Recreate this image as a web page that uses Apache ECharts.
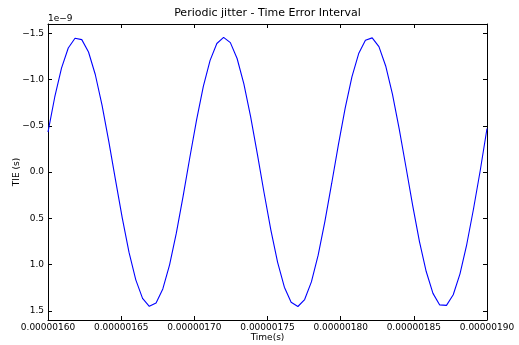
<!DOCTYPE html>
<html>
<head>
<meta charset="utf-8">
<script src="https://cdn.jsdelivr.net/npm/echarts@6/dist/echarts.min.js"></script>
<style>
  html, body { margin: 0; padding: 0; background: #fff; }
  #chart { width: 519px; height: 345px; }
</style>
</head>
<body>
<div id="chart"></div>
<script>
// Edge times in ns (axis labels are shown in seconds)
const timeNs = [
  1600.00, 1604.62, 1609.23, 1613.85, 1618.46, 1623.08, 1627.69, 1632.31, 1636.92, 1641.54, 1646.15, 1650.77, 1655.38,
  1660.00, 1664.62, 1669.23, 1673.85, 1678.46, 1683.08, 1687.69, 1692.31, 1696.92, 1701.54, 1706.15, 1710.77, 1715.38,
  1720.00, 1724.62, 1729.23, 1733.85, 1738.46, 1743.08, 1747.69, 1752.31, 1756.92, 1761.54, 1766.15, 1770.77, 1775.38,
  1780.00, 1784.62, 1789.23, 1793.85, 1798.46, 1803.08, 1807.69, 1812.31, 1816.92, 1821.54, 1826.15, 1830.77, 1835.38,
  1840.00, 1844.62, 1849.23, 1853.85, 1858.46, 1863.08, 1867.69, 1872.31, 1876.92, 1881.54, 1886.15, 1890.77, 1895.38,
  1900.00
];
// TIE in units of 1e-9 s
const tie = [
  -0.432, -0.811, -1.123, -1.341, -1.446, -1.431, -1.297, -1.054, -0.723, -0.332,
  0.087, 0.499, 0.869, 1.166, 1.366, 1.452, 1.417, 1.264, 1.004, 0.661,
  0.263, -0.157, -0.564, -0.925, -1.207, -1.389, -1.455, -1.399, -1.227, -0.952,
  -0.598, -0.194, 0.227, 0.628, 0.977, 1.245, 1.408, 1.454, 1.379, 1.188,
  0.899, 0.533, 0.124, -0.296, -0.691, -1.028, -1.280, -1.424, -1.450, -1.355,
  -1.146, -0.842, -0.467, -0.054, 0.364, 0.752, 1.076, 1.312, 1.437, 1.442,
  1.327, 1.101, 0.784, 0.400, -0.016, -0.470
];
const yTicks = [-1.5, -1.0, -0.5, 0.0, 0.5, 1.0, 1.5];

const font = 'DejaVu Sans';
const chart = echarts.init(document.getElementById('chart'));

const xBase = {
  type: 'value',
  min: 1600,
  max: 1900,
  interval: 50,
  axisLine: { onZero: false, lineStyle: { color: '#000', width: 1 } },
  axisTick: { inside: true, length: 4, lineStyle: { color: '#000' } },
  splitLine: { show: false }
};
const yBase = {
  type: 'value',
  inverse: true,
  min: -1.6,
  max: 1.6,
  axisLine: { show: true, onZero: false, lineStyle: { color: '#000', width: 1 } },
  axisTick: { inside: true, length: 4, customValues: yTicks, lineStyle: { color: '#000' } },
  splitLine: { show: false }
};

chart.setOption({
  animation: false,
  title: {
    text: 'Periodic jitter - Time Error Interval',
    left: 267.5,
    textAlign: 'center',
    top: 8,
    padding: 0,
    textStyle: { fontFamily: font, fontSize: 11, fontWeight: 'normal', color: '#000' }
  },
  graphic: [{
    type: 'text',
    left: 48,
    top: 14,
    style: { text: '1e\u22129', fontFamily: font, fontSize: 9, fill: '#000' }
  }],
  grid: { left: 48, right: 32, top: 24, bottom: 25, containLabel: false, outerBoundsMode: 'none' },
  xAxis: [
    Object.assign({}, xBase, {
      position: 'bottom',
      name: 'Time(s)',
      nameLocation: 'middle',
      nameGap: 13,
      nameMoveOverlap: false,
      nameTextStyle: { fontFamily: font, fontSize: 9, color: '#000' },
      axisLabel: {
        margin: 3,
        fontFamily: font,
        fontSize: 9,
        color: '#000',
        formatter: v => (v * 1e-9).toFixed(8)
      }
    }),
    Object.assign({}, xBase, { position: 'top', axisLabel: { show: false } })
  ],
  yAxis: [
    Object.assign({}, yBase, {
      position: 'left',
      name: 'TIE (s)',
      nameLocation: 'middle',
      nameGap: 27,
      nameMoveOverlap: false,
      nameTextStyle: { fontFamily: font, fontSize: 9, color: '#000' },
      axisLabel: {
        margin: 4,
        fontFamily: font,
        fontSize: 9,
        color: '#000',
        customValues: yTicks,
        formatter: v => v.toFixed(1).replace('-', '\u2212')
      }
    }),
    Object.assign({}, yBase, { position: 'right', axisLabel: { show: false } })
  ],
  series: [{
    type: 'line',
    xAxisIndex: 0,
    yAxisIndex: 0,
    data: timeNs.map((t, i) => [t, tie[i]]),
    symbol: 'none',
    lineStyle: { color: '#0000ff', width: 1.1 },
    clip: true
  }]
});
</script>
</body>
</html>
